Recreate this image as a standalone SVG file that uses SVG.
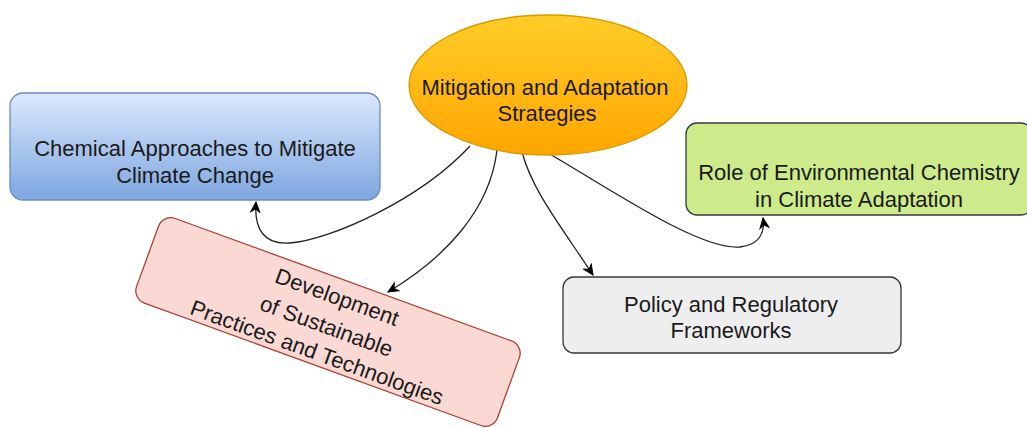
<svg xmlns="http://www.w3.org/2000/svg" width="1027" height="428" viewBox="0 0 1027 428">
<defs>
<linearGradient id="gOrange" x1="0" y1="0" x2="0" y2="1"><stop offset="0" stop-color="#ffcd28"/><stop offset="1" stop-color="#ffa500"/></linearGradient>
<linearGradient id="gBlue" x1="0" y1="0" x2="0" y2="1"><stop offset="0" stop-color="#dae8fc"/><stop offset="1" stop-color="#7ea6e0"/></linearGradient>
<marker id="arr" markerWidth="12" markerHeight="12" viewBox="0 0 12 12" refX="11" refY="6" orient="auto" markerUnits="userSpaceOnUse">
<path d="M1,1.5 L11,6 L1,10.5 L4,6 z" fill="#000" stroke="#000" stroke-width="1"/>
</marker>
<style>
text{font-family:"Liberation Sans",Arial,sans-serif;font-size:22px;fill:#1a1a1a;text-anchor:middle}
.edge{fill:none;stroke:#222;stroke-width:1.3;marker-end:url(#arr)}
</style>
</defs>
<g id="connectors">
<path class="edge" d="M470 146 C420 200 330 240 290 243 C263 245 254 228 256 202"/>
<path class="edge" d="M497 150 C490 210 445 258 388 292"/>
<path class="edge" d="M522 152 C532 190 560 225 593 275"/>
<path class="edge" d="M548 153 C620 195 700 250 740 247 C760 245 765 232 763 218"/>
</g>
<g id="center">
<ellipse cx="548" cy="85" rx="139" ry="70" fill="url(#gOrange)" stroke="#d79b00" stroke-width="1.3"/>
<text x="545" y="95">Mitigation and Adaptation</text>
<text x="547" y="121">Strategies</text>
</g>
<g id="chemical">
<rect x="10" y="93" width="370" height="107" rx="13" fill="url(#gBlue)" stroke="#6c8ebf" stroke-width="1.3"/>
<text x="195" y="156">Chemical Approaches to Mitigate</text>
<text x="195" y="183">Climate Change</text>
</g>
<g id="development" transform="translate(328 322) rotate(20)">
<rect x="-192" y="-45" width="384" height="90" rx="13" fill="#fad9d5" stroke="#ae4132" stroke-width="1.3"/>
<text x="0" y="-19">Development</text>
<text x="0" y="12">of Sustainable</text>
<text x="0" y="40">Practices and Technologies</text>
</g>
<g id="policy">
<rect x="563" y="277" width="338" height="76" rx="11" fill="#eeeeee" stroke="#36393d" stroke-width="1.3"/>
<text x="731" y="312">Policy and Regulatory</text>
<text x="731" y="338">Frameworks</text>
</g>
<g id="role">
<rect x="686" y="123" width="346" height="92" rx="11" fill="#cdeb8b" stroke="#36393d" stroke-width="1.3"/>
<text x="859" y="180">Role of Environmental Chemistry</text>
<text x="859" y="207">in Climate Adaptation</text>
</g>
</svg>
